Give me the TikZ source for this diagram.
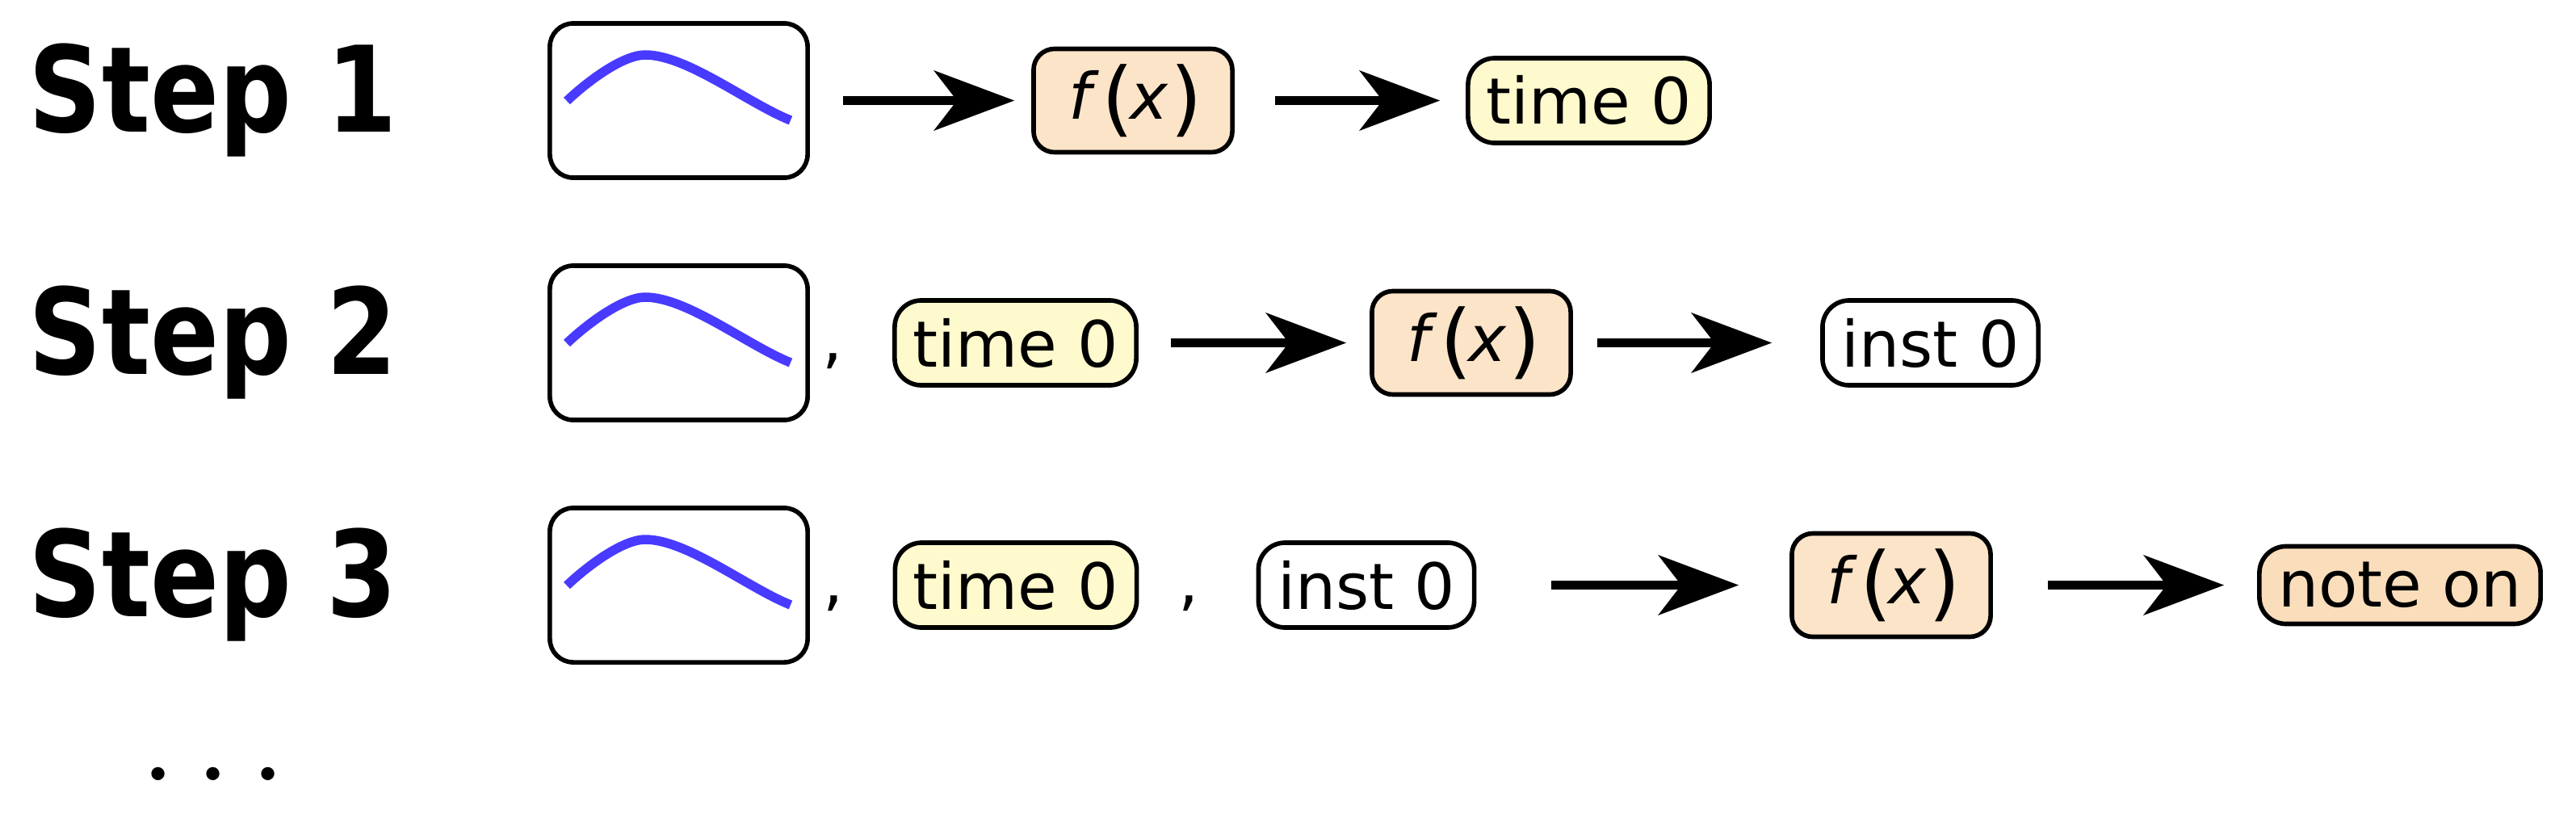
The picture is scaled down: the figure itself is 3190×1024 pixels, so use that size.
\documentclass[tikz,border=0pt]{standalone}
\usepackage{fontspec}
\usetikzlibrary{arrows.meta}
\newfontfamily\dvs{DejaVu Sans}[ItalicFont={DejaVu Sans Oblique},BoldFont={DejaVu Sans Bold}]
\definecolor{fxfill}{RGB}{252,228,200}
\definecolor{timefill}{RGB}{255,250,205}
\definecolor{notefill}{RGB}{250,221,187}
\definecolor{wavecol}{RGB}{72,58,255}
\newcommand\nodefont{\dvs\fontsize{22.5pt}{27pt}\selectfont}
\newcommand\bigpar[1]{\raisebox{-0.087cm}{\fontsize{28.8pt}{30pt}\selectfont #1}}
\newcommand\glyphat[2]{\makebox[0pt][l]{\hspace{#1}\makebox[0pt][c]{#2}}}
\newcommand\fxtext{\makebox[1.94cm][l]{\glyphat{0.31cm}{\itshape f}\glyphat{0.785cm}{\bigpar{(}}\glyphat{1.165cm}{\itshape x}\glyphat{1.63cm}{\bigpar{)}}}}
\newcommand\steptext[1]{\scalebox{0.85}[1]{#1}}
\tikzset{
  rbox/.style={draw, line width=1.6pt, rounded corners=#1, inner sep=0pt, font=\nodefont},
  wavebox/.style={rbox=0.29cm, minimum width=3.19cm, minimum height=1.91cm},
  fxbox/.style={rbox=0.26cm, fill=fxfill, minimum width=2.46cm, minimum height=1.28cm},
  timebox/.style={rbox=0.33cm, fill=timefill, minimum width=2.99cm, minimum height=1.05cm},
  instbox/.style={rbox=0.33cm, fill=white, minimum width=2.67cm, minimum height=1.05cm},
  notebox/.style={rbox=0.33cm, fill=notefill, minimum width=3.48cm, minimum height=0.96cm},
  arr/.style={line width=0.117cm, -{Stealth[length=1cm,width=0.75cm,inset=0.29cm,line width=0pt]}},
  steplabel/.style={anchor=base west, inner sep=0pt, font=\dvs\bfseries\fontsize{42pt}{48pt}\selectfont},
  commanode/.style={inner sep=0pt, font=\nodefont},
  dotsnode/.style={inner sep=0pt, font=\rmfamily\bfseries\fontsize{32pt}{36pt}\selectfont},
  wave/.style={line width=0.115cm, draw=wavecol},
}
\newcommand\drawwave[1]{%
  \begin{scope}[shift={(#1.center)}]
    \draw[wave] (-138.5,0.5) .. controls (-115,-22) and (-70,-56.5) .. (-41.5,-56.5)
                .. controls (10,-56.5) and (85,3) .. (138.5,24.5);
  \end{scope}}
\begin{document}
\begin{tikzpicture}[x=0.01cm, y=-0.01cm]
\useasboundingbox (0,0) rectangle (3190,1024);
% Step labels
\node[steplabel] (s1) at (35,163) {\steptext{Step 1}};
\node[steplabel] (s2) at (35,463) {\steptext{Step 2}};
\node[steplabel] (s3) at (35,763) {\steptext{Step 3}};
% Row 1
\node[wavebox] (w1) at (840.5,124.5) {};
\drawwave{w1}
\node[fxbox] (f1) at (1403,124.5) {\fxtext};
\node[timebox] (t1) at (1967.5,124.5) {time 0};
\draw[arr] ([xshift=0.41cm]w1.east) -- ([xshift=-0.21cm]f1.west);
\draw[arr] ([xshift=0.50cm]f1.east) -- ([xshift=-0.32cm]t1.west);
% Row 2
\node[wavebox] (w2) at (840.5,424.5) {};
\drawwave{w2}
\node[commanode] (c2) at (1031,447) {,};
\node[timebox] (t2) at (1257.5,424.5) {time 0};
\node[fxbox] (f2) at (1822,424.5) {\fxtext};
\node[instbox] (i2) at (2390.5,424.5) {inst 0};
\draw[arr] ([xshift=0.40cm]t2.east) -- ([xshift=-0.29cm]f2.west);
\draw[arr] ([xshift=0.30cm]f2.east) -- ([xshift=-0.60cm]i2.west);
% Row 3
\node[wavebox] (w3) at (840.5,724.5) {};
\drawwave{w3}
\node[commanode] (c3a) at (1032,747) {,};
\node[timebox] (t3) at (1258,724.5) {time 0};
\node[commanode] (c3b) at (1472,747) {,};
\node[instbox] (i3) at (1692,724.5) {inst 0};
\node[fxbox] (f3) at (2342,724.5) {\fxtext};
\node[notebox] (n3) at (2972,724.5) {note on};
\draw[arr] ([xshift=0.925cm]i3.east) -- ([xshift=-0.63cm]f3.west);
\draw[arr] ([xshift=0.68cm]f3.east) -- ([xshift=-0.41cm]n3.west);
% dots
\node[dotsnode] (dd) at (264,958) {.\hspace{0.33cm}.\hspace{0.33cm}.};
\end{tikzpicture}
\end{document}
